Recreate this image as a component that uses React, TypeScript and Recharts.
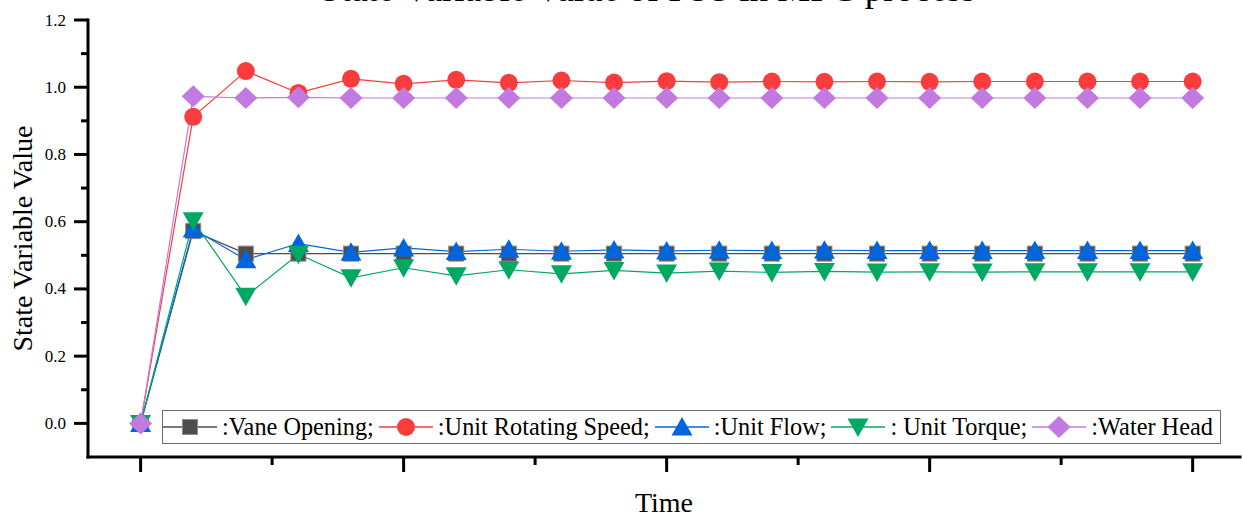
import { Legend, Line, LineChart, XAxis, YAxis } from "recharts";

const FONT = '"Liberation Serif", "Times New Roman", serif';

const steps = [0, 1, 2, 3, 4, 5, 6, 7, 8, 9, 10, 11, 12, 13, 14, 15, 16, 17, 18, 19, 20];
const vaneOpening = [0, 0.572, 0.505, 0.505, 0.505, 0.505, 0.505, 0.505, 0.505, 0.505, 0.505, 0.505, 0.505, 0.505, 0.505, 0.505, 0.505, 0.505, 0.505, 0.505, 0.505];
const rotatingSpeed = [0, 0.912, 1.048, 0.983, 1.025, 1.01, 1.022, 1.013, 1.02, 1.014, 1.018, 1.015, 1.017, 1.016, 1.017, 1.016, 1.017, 1.017, 1.017, 1.017, 1.017];
const unitFlow = [0, 0.578, 0.487, 0.535, 0.509, 0.522, 0.511, 0.518, 0.512, 0.516, 0.513, 0.515, 0.514, 0.515, 0.514, 0.514, 0.514, 0.514, 0.514, 0.514, 0.514];
const unitTorque = [0, 0.603, 0.378, 0.503, 0.433, 0.463, 0.439, 0.457, 0.445, 0.455, 0.447, 0.453, 0.449, 0.452, 0.45, 0.451, 0.45, 0.451, 0.451, 0.451, 0.451];
const waterHead = [0, 0.973, 0.968, 0.97, 0.968, 0.968, 0.968, 0.968, 0.968, 0.968, 0.968, 0.968, 0.968, 0.968, 0.968, 0.968, 0.968, 0.968, 0.968, 0.968, 0.968];

const yTicks = [0, 0.1, 0.2, 0.3, 0.4, 0.5, 0.6, 0.7, 0.8, 0.9, 1.0, 1.1, 1.2];
const xTicks = [0, 2.5, 5, 7.5, 10, 12.5, 15, 17.5, 20];

type Shape = "square" | "circle" | "up" | "down" | "diamond";

const series: { key: string; label: string; color: string; shape: Shape }[] = [
  { key: "vane", label: ":Vane Opening;", color: "#4d4d4d", shape: "square" },
  { key: "speed", label: ":Unit Rotating Speed;", color: "#fa3c3c", shape: "circle" },
  { key: "flow", label: ":Unit Flow;", color: "#0066e0", shape: "up" },
  { key: "torque", label: ": Unit Torque;", color: "#00a862", shape: "down" },
  { key: "head", label: ":Water Head", color: "#c27ae0", shape: "diamond" },
];

const data = steps.map((t, i) => ({
  t,
  vane: vaneOpening[i],
  speed: rotatingSpeed[i],
  flow: unitFlow[i],
  torque: unitTorque[i],
  head: waterHead[i],
}));

function marker(shape: Shape, cx: number, cy: number, color: string, key?: string | number) {
  if (shape === "square")
    return <rect key={key} x={cx - 7.5} y={cy - 7.5} width={15} height={15} fill={color} stroke="#8a8a8a" strokeWidth={1} />;
  if (shape === "circle") return <circle key={key} cx={cx} cy={cy} r={9} fill={color} />;
  if (shape === "up")
    return <polygon key={key} points={`${cx},${cy - 10} ${cx - 10.5},${cy + 8.5} ${cx + 10.5},${cy + 8.5}`} fill={color} />;
  if (shape === "down")
    return <polygon key={key} points={`${cx},${cy + 10} ${cx - 10.5},${cy - 8.5} ${cx + 10.5},${cy - 8.5}`} fill={color} />;
  return <polygon key={key} points={`${cx},${cy - 11} ${cx + 11.5},${cy} ${cx},${cy + 11} ${cx - 11.5},${cy}`} fill={color} />;
}

function YTick(props: any) {
  const { x, y, payload } = props;
  const major = Math.round(payload.value * 10) % 2 === 0;
  return (
    <g>
      <line x1={x} x2={x - (major ? 14 : 7)} y1={y} y2={y} stroke="#000" strokeWidth={3} />
      {major ? (
        <text x={x - 22} y={y} textAnchor="end" dominantBaseline="central" fontSize={17} fontFamily={FONT} fill="#000">
          {payload.value.toFixed(1)}
        </text>
      ) : null}
    </g>
  );
}

function XTick(props: any) {
  const { x, y, payload } = props;
  const major = payload.value % 5 === 0;
  return <line x1={x} x2={x} y1={y} y2={y + (major ? 15 : 8)} stroke="#000" strokeWidth={3} />;
}

function LegendBox() {
  return (
    <div
      style={{
        display: "flex",
        alignItems: "center",
        height: 32,
        border: "1.5px solid #6b6b6b",
        background: "#fff",
        fontFamily: FONT,
        fontSize: 24.3,
        color: "#000",
        whiteSpace: "nowrap",
        paddingRight: 2,
      }}
    >
      {series.map((s) => (
        <div key={s.key} style={{ display: "flex", alignItems: "center", marginRight: 5 }}>
          <svg width={54} height={26}>
            <line x1={0} x2={54} y1={13} y2={13} stroke={s.color} strokeWidth={1.5} />
            {marker(s.shape, 27, 13, s.color)}
          </svg>
          <span style={{ marginLeft: 5 }}>{s.label}</span>
        </div>
      ))}
    </div>
  );
}

export default function App() {
  return (
    <div style={{ position: "absolute", left: 0, top: 0, width: 1242, height: 517, background: "#fff", overflow: "hidden" }}>
      <div
        style={{
          position: "absolute",
          left: 0,
          width: 1296,
          top: -30,
          textAlign: "center",
          fontFamily: FONT,
          fontSize: 37,
          lineHeight: "37px",
          color: "#000",
          whiteSpace: "nowrap",
        }}
      >
        State Variable Value of PSS in MPC process
      </div>
      <LineChart width={1242} height={517} data={data} margin={{ top: 20, right: 2, bottom: 0, left: 0 }}>
        <XAxis
          dataKey="t"
          type="number"
          domain={[-1, 20.9]}
          allowDataOverflow
          ticks={xTicks}
          interval={0}
          tickSize={0}
          tickMargin={0}
          tick={<XTick />}
          tickLine={false}
          height={60}
          axisLine={{ stroke: "#000", strokeWidth: 3, strokeLinecap: "square" }}
          label={{ value: "Time", position: "insideBottom", offset: 5, fontSize: 28, fontFamily: FONT, fill: "#000" }}
        />
        <YAxis
          type="number"
          domain={[-0.1, 1.2]}
          allowDataOverflow
          ticks={yTicks}
          interval={0}
          tickSize={0}
          tickMargin={0}
          tick={<YTick />}
          tickLine={false}
          width={88}
          axisLine={{ stroke: "#000", strokeWidth: 3, strokeLinecap: "square" }}
          label={{
            value: "State Variable Value",
            angle: -90,
            position: "insideLeft",
            offset: 22,
            fontSize: 28,
            fontFamily: FONT,
            fill: "#000",
            style: { textAnchor: "middle" },
          }}
        />
        <Legend
          layout="horizontal"
          verticalAlign="middle"
          align="center"
          content={<LegendBox />}
          wrapperStyle={{ left: 162, top: 410, width: "auto", height: "auto" }}
        />
        {series.map((s) => (
          <Line
            key={s.key}
            dataKey={s.key}
            name={s.label}
            type="linear"
            stroke={s.color}
            strokeWidth={1.2}
            isAnimationActive={false}
            dot={(p: any) => marker(s.shape, p.cx, p.cy, s.color, `${s.key}-${p.index}`)}
            activeDot={false}
          />
        ))}
      </LineChart>
    </div>
  );
}
